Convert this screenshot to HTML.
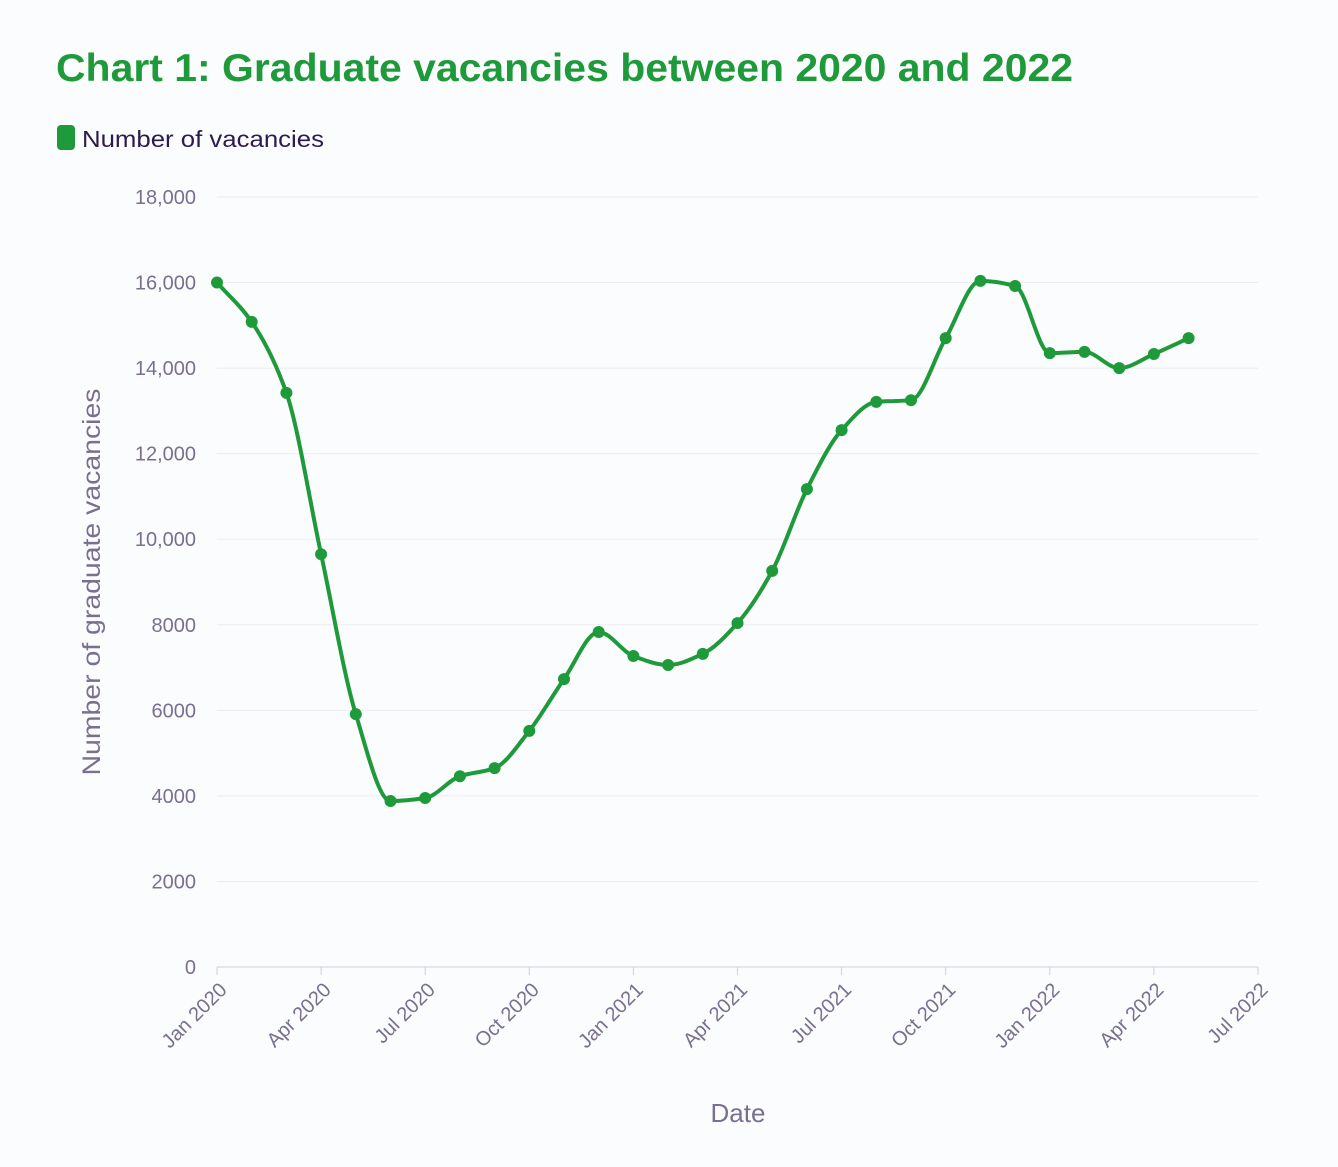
<!DOCTYPE html>
<html><head><meta charset="utf-8"><style>
body{margin:0;background:#fbfcfe;font-family:"Liberation Sans",sans-serif}
</style></head><body>
<svg width="1338" height="1162" xmlns="http://www.w3.org/2000/svg">
<rect width="1338" height="1162" fill="#fbfcfe"/>
<text x="56" y="81" font-size="39" font-weight="bold" fill="#1f9a3a" textLength="1017" lengthAdjust="spacingAndGlyphs">Chart 1: Graduate vacancies between 2020 and 2022</text>
<g>
<rect x="57" y="125" width="18" height="25" rx="4" fill="#1f9a3a"/>
<text x="82" y="147" font-size="23" fill="#2d1b4e" textLength="242" lengthAdjust="spacingAndGlyphs">Number of vacancies</text>
</g>
<g id="grid"></g><g id="yticks"></g><g id="xticks"></g>
<text transform="translate(100,582) rotate(-90)" text-anchor="middle" font-size="25" fill="#7a6f8f" textLength="387" lengthAdjust="spacingAndGlyphs">Number of graduate vacancies</text>
<text x="738" y="1122" text-anchor="middle" font-size="26" fill="#7a6f8f">Date</text>
<g id="series"></g>
</svg>
<script>
const yTicks=[0,2000,4000,6000,8000,10000,12000,14000,16000,18000];
const yTickLabels=["0","2000","4000","6000","8000","10,000","12,000","14,000","16,000","18,000"];
const xTickLabels=["Jan 2020","Apr 2020","Jul 2020","Oct 2020","Jan 2021","Apr 2021","Jul 2021","Oct 2021","Jan 2022","Apr 2022","Jul 2022"];
const xTickMonths=[0,3,6,9,12,15,18,21,24,27,30];
const months=[0,1,2,3,4,5,6,7,8,9,10,11,12,13,14,15,16,17,18,19,20,21,22,23,24,25,26,27,28];
const vacancies=[16000,15080,13420,9650,5910,3880,3950,4460,4650,5520,6730,7830,7270,7060,7320,8040,9260,11170,12550,13210,13250,14700,16040,15920,14350,14380,14000,14330,14700];
const NS="http://www.w3.org/2000/svg";
const x=m=>217+m*(1258-217)/30;
const y=v=>967-v*(967-197)/18000;
function mk(tag,attrs,parent){const e=document.createElementNS(NS,tag);for(const k in attrs)e.setAttribute(k,attrs[k]);parent.appendChild(e);return e;}
const grid=document.getElementById('grid'),yt=document.getElementById('yticks'),xt=document.getElementById('xticks'),ser=document.getElementById('series');
yTicks.forEach((v,i)=>{
 const l=mk('line',{x1:217,x2:1258,y1:y(v),y2:y(v),stroke:v===0?'#cfcfd8':'#ececf2','stroke-width':1},grid);
 
 
 const t=mk('text',{x:196,y:y(v)+7,'text-anchor':'end','font-size':20,fill:'#7a6f8f'},yt);
 t.textContent=yTickLabels[i];
 
 
});
xTickMonths.forEach((m,i)=>{
 const l=mk('line',{x1:x(m),x2:x(m),y1:967,y2:975,stroke:'#cfcfd8'},xt);
 
 
 const t=mk('text',{'text-anchor':'end','font-size':20,fill:'#7a6f8f',transform:`translate(${x(m)+11},${991}) rotate(-45)`},xt);
 t.textContent=xTickLabels[i];
 
 
});
const P=months.map((m,i)=>[x(m),y(vacancies[i])]);
// monotone cubic
const n=P.length,dk=[],mt=[];
for(let i=0;i<n-1;i++)dk.push((P[i+1][1]-P[i][1])/(P[i+1][0]-P[i][0]));
for(let i=0;i<n;i++){
 if(i===0)mt.push(dk[0]);else if(i===n-1)mt.push(dk[n-2]);
 else if(dk[i-1]*dk[i]<=0)mt.push(0);
 else mt.push(2/(1/dk[i-1]+1/dk[i]));
}
let d=`M${P[0][0]},${P[0][1]}`;
for(let i=0;i<n-1;i++){
 const h=(P[i+1][0]-P[i][0])/3;
 d+=` C${P[i][0]+h},${P[i][1]+mt[i]*h} ${P[i+1][0]-h},${P[i+1][1]-mt[i+1]*h} ${P[i+1][0]},${P[i+1][1]}`;
}
const path=mk('path',{d:d,fill:'none',stroke:'#1f9a3a','stroke-width':4},ser);


P.forEach(p=>{
 const c=mk('circle',{cx:p[0],cy:p[1],r:6,fill:'#1f9a3a'},ser);
 
 
});
</script>
</body></html>
